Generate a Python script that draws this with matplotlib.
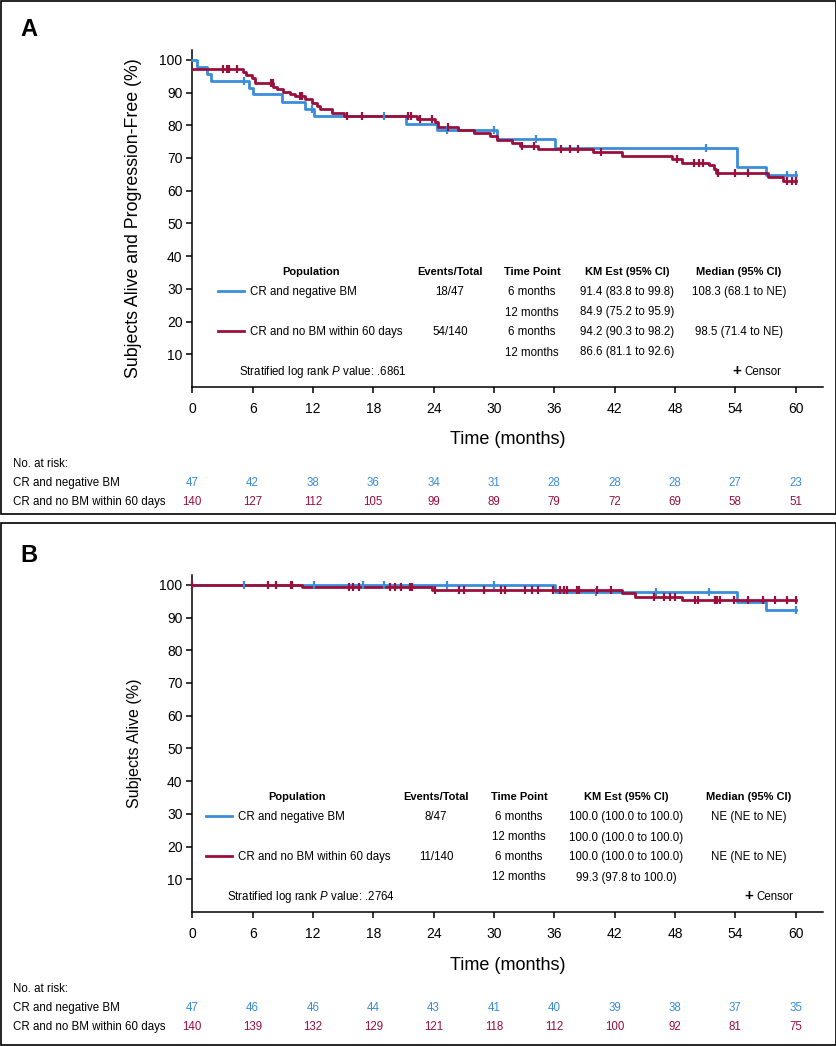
import numpy as np
import matplotlib
matplotlib.use("Agg")
import matplotlib.pyplot as plt
from matplotlib.lines import Line2D
from matplotlib.patches import Rectangle
from matplotlib.transforms import blended_transform_factory

plt.rcParams['font.family'] = ['Liberation Sans', 'DejaVu Sans']
plt.rcParams['mathtext.fontset'] = 'custom'
plt.rcParams['mathtext.rm'] = 'Liberation Sans'
plt.rcParams['mathtext.it'] = 'Liberation Sans:italic'

BLUE = '#3b8ddb'
RED = '#9a0f3c'

# ---- Panel A: progression-free survival ----
pfs_neg_t = [0, 0.44, 1.49, 1.86, 5.64, 6.07, 8.9, 11.2, 12.1, 21.3, 24.3, 30.3, 36.1, 54.2, 57.1, 60]
pfs_neg_s = [100, 97.9, 95.7, 93.6, 91.4, 89.4, 87.2, 85.0, 82.9, 80.3, 78.4, 75.7, 72.9, 67.3, 64.7, 64.7]
pfs_neg_cens = [5.1, 11.9, 19.1, 25.3, 30.0, 34.2, 51.1, 59.1, 60.0]

pfs_nobm_t = [0, 5.06, 5.39, 5.89, 6.22, 8.06, 8.39, 9.05, 9.72, 10.2, 11.2, 11.9, 12.4, 12.7, 13.9,
              15.1, 22.3, 24.1, 24.4, 26.4, 28.0, 29.6, 30.3, 31.8, 32.6, 34.4, 39.9, 42.7, 47.7, 48.7,
              51.4, 51.9, 52.1, 57.3, 58.8, 60]
pfs_nobm_s = [97.1, 96.2, 95.4, 94.4, 92.8, 91.6, 91.0, 90.3, 89.6, 89.0, 88.0, 86.9, 86.0, 85.0, 83.8,
              82.8, 81.9, 81.1, 79.6, 78.7, 77.6, 76.6, 75.5, 74.7, 73.6, 72.7, 71.7, 70.6, 69.8, 68.5,
              67.8, 66.5, 65.3, 64.3, 63.1, 63.1]
pfs_nobm_cens = [3.09, 3.42, 3.68, 4.48, 7.8, 7.99, 10.7, 10.9, 15.4, 16.9, 21.5, 21.8, 22.6, 23.8, 25.4,
                 32.8, 34.0, 36.7, 37.6, 38.4, 40.6, 48.2, 49.9, 50.4, 50.8, 52.3, 54.0, 55.3, 59.1,
                 59.6, 60.0]

# ---- Panel B: overall survival ----
os_neg_t = [0, 36.1, 54.2, 57.1, 60]
os_neg_s = [100, 97.7, 94.7, 92.2, 92.2]
os_neg_cens = [5.1, 12.1, 17.0, 19.1, 25.3, 30.0, 40.2, 46.1, 51.4, 60.0]

os_nobm_t = [0, 10.9, 23.8, 42.7, 44.0, 48.7, 60]
os_nobm_s = [100, 99.3, 98.5, 97.4, 96.4, 95.4, 95.4]
os_nobm_cens = [0, 7.56, 8.3, 9.8, 9.9, 15.6, 16.0, 16.6, 19.7, 20.2, 20.8, 21.7, 21.9, 24.1, 26.5,
                27.0, 29.0, 30.7, 31.1, 33.1, 33.8, 34.4, 35.9, 36.6, 37.0, 37.3, 38.3, 38.5, 40.3,
                41.6, 45.9, 46.9, 47.5, 48.0, 50.0, 50.3, 52.0, 52.2, 52.5, 53.9, 55.3, 56.8, 58.0,
                59.1, 60.0]

# ---- Numbers at risk ----
risk_times = [0, 6, 12, 18, 24, 30, 36, 42, 48, 54, 60]
risk_a_neg = [47, 42, 38, 36, 34, 31, 28, 28, 28, 27, 23]
risk_a_nobm = [140, 127, 112, 105, 99, 89, 79, 72, 69, 58, 51]
risk_b_neg = [47, 46, 46, 44, 43, 41, 40, 39, 38, 37, 35]
risk_b_nobm = [140, 139, 132, 129, 121, 118, 112, 100, 92, 81, 75]

group_names = ["CR and negative BM", "CR and no BM within 60 days"]
table_header = ["Population", "Events/Total", "Time Point", "KM Est (95% CI)", "Median (95% CI)"]
table_a = [
    ["18/47", "6 months", "91.4 (83.8 to 99.8)", "108.3 (68.1 to NE)"],
    ["", "12 months", "84.9 (75.2 to 95.9)", ""],
    ["54/140", "6 months", "94.2 (90.3 to 98.2)", "98.5 (71.4 to NE)"],
    ["", "12 months", "86.6 (81.1 to 92.6)", ""],
]
table_b = [
    ["8/47", "6 months", "100.0 (100.0 to 100.0)", "NE (NE to NE)"],
    ["", "12 months", "100.0 (100.0 to 100.0)", ""],
    ["11/140", "6 months", "100.0 (100.0 to 100.0)", "NE (NE to NE)"],
    ["", "12 months", "99.3 (97.8 to 100.0)", ""],
]

W, H = 837, 1046
fig = plt.figure(figsize=(W / 100, H / 100), dpi=100)

BASE = 4  # px from text middle to baseline


def fx(x):
    return x / W


def fy(y):
    return 1 - y / H


def censor_y(times, surv, cens):
    idx = np.searchsorted(times, cens, side='right') - 1
    return np.asarray(surv)[idx]


def draw_panel(off, letter, ylabel, ylabel_size, curves, risk, table, pval, cols, leg_x, censor_x):
    left, right = 192.3, 822.7
    top, bottom = 50 + off, 387 + off
    ax = fig.add_axes([fx(left), fy(bottom), (right - left) / W, (bottom - top) / H])
    for t, s, c, col in curves:
        ax.step(t, s, where='post', color=col, lw=2.0, zorder=3, clip_on=False)
        ax.plot(c, censor_y(t, s, c), ls='none', marker='|', ms=6, mew=1.6, color=col,
                zorder=4, clip_on=False)
    ax.set_xlim(0, 62.7)
    ax.set_ylim(0, 103)
    ax.set_xticks(risk_times)
    ax.set_yticks(range(10, 101, 10))
    for sp in ['top', 'right']:
        ax.spines[sp].set_visible(False)
    for sp in ['left', 'bottom']:
        ax.spines[sp].set_linewidth(1.1)
    ax.tick_params(axis='x', length=4, width=1.1, pad=7, labelsize=10)
    ax.tick_params(axis='y', length=4, width=1.1, pad=3, labelsize=10)
    ax.set_ylabel(ylabel, fontsize=ylabel_size)
    ax.yaxis.set_label_coords((142 - left) / (right - left), 0.5)

    fig.text(fx(20), fy(30 + off), letter, fontsize=17, fontweight='bold', va='center')
    fig.text(fx(507.5), fy(440 + off), "Time (months)", fontsize=13, ha='center', va='center')

    # summary table inside the plot
    hy = 271 + off + BASE
    for x, lab in zip(cols, table_header):
        fig.text(fx(x), fy(hy), lab, fontsize=8, fontweight='bold', ha='center', va='baseline')
    row_y = [291 + off, 311.5 + off, 331 + off, 351.5 + off]
    for i, (y, row) in enumerate(zip(row_y, table)):
        if i in (0, 2):
            g = i // 2
            col = BLUE if g == 0 else RED
            fig.add_artist(Line2D([fx(leg_x), fx(leg_x + 26)], [fy(y), fy(y)], color=col, lw=2.0))
            fig.text(fx(leg_x + 32), fy(y + BASE), group_names[g], fontsize=8.3, va='baseline')
        for x, val in zip(cols[1:], row):
            fig.text(fx(x), fy(y + BASE), val, fontsize=8.3, ha='center', va='baseline')
    sy = 371 + off + BASE
    fig.text(fx(leg_x + 21), fy(sy), r"Stratified log rank $\it{P}$ value: " + pval,
             fontsize=8.3, va='baseline')
    fig.text(fx(censor_x), fy(sy), "+", fontsize=11, fontweight='bold', va='baseline')
    fig.text(fx(censor_x + 12), fy(sy), "Censor", fontsize=8.3, va='baseline')

    # numbers at risk
    tr = blended_transform_factory(ax.transData, fig.transFigure)
    fig.text(fx(13), fy(463 + off + BASE), "No. at risk:", fontsize=8.3, va='baseline')
    for k, (y, vals, col) in enumerate(zip([482 + off, 501 + off], risk, [BLUE, RED])):
        fig.text(fx(13), fy(y + BASE), group_names[k], fontsize=8.3, va='baseline')
        for t, v in zip(risk_times, vals):
            ax.text(t, fy(y + BASE), str(v), transform=tr, fontsize=8.3, color=col,
                    ha='center', va='baseline')
    return ax


draw_panel(0, "A", "Subjects Alive and Progression-Free (%)", 12.8,
           [(pfs_neg_t, pfs_neg_s, pfs_neg_cens, BLUE),
            (pfs_nobm_t, pfs_nobm_s, pfs_nobm_cens, RED)],
           [risk_a_neg, risk_a_nobm], table_a, ".6861",
           [311, 450, 532, 627, 739], 218, 732)

draw_panel(525, "B", "Subjects Alive (%)", 11.5,
           [(os_neg_t, os_neg_s, os_neg_cens, BLUE),
            (os_nobm_t, os_nobm_s, os_nobm_cens, RED)],
           [risk_b_neg, risk_b_nobm], table_b, ".2764",
           [297, 436, 519, 626, 749], 206, 744)

# frames around the two panels
fig.add_artist(Rectangle((fx(1), fy(514)), (W - 2) / W, 513 / H, transform=fig.transFigure,
                         fill=False, ec='black', lw=1.2))
fig.add_artist(Rectangle((fx(1), fy(1045)), (W - 2) / W, 522 / H, transform=fig.transFigure,
                         fill=False, ec='black', lw=1.2))

fig.savefig("out.png", dpi=100)
